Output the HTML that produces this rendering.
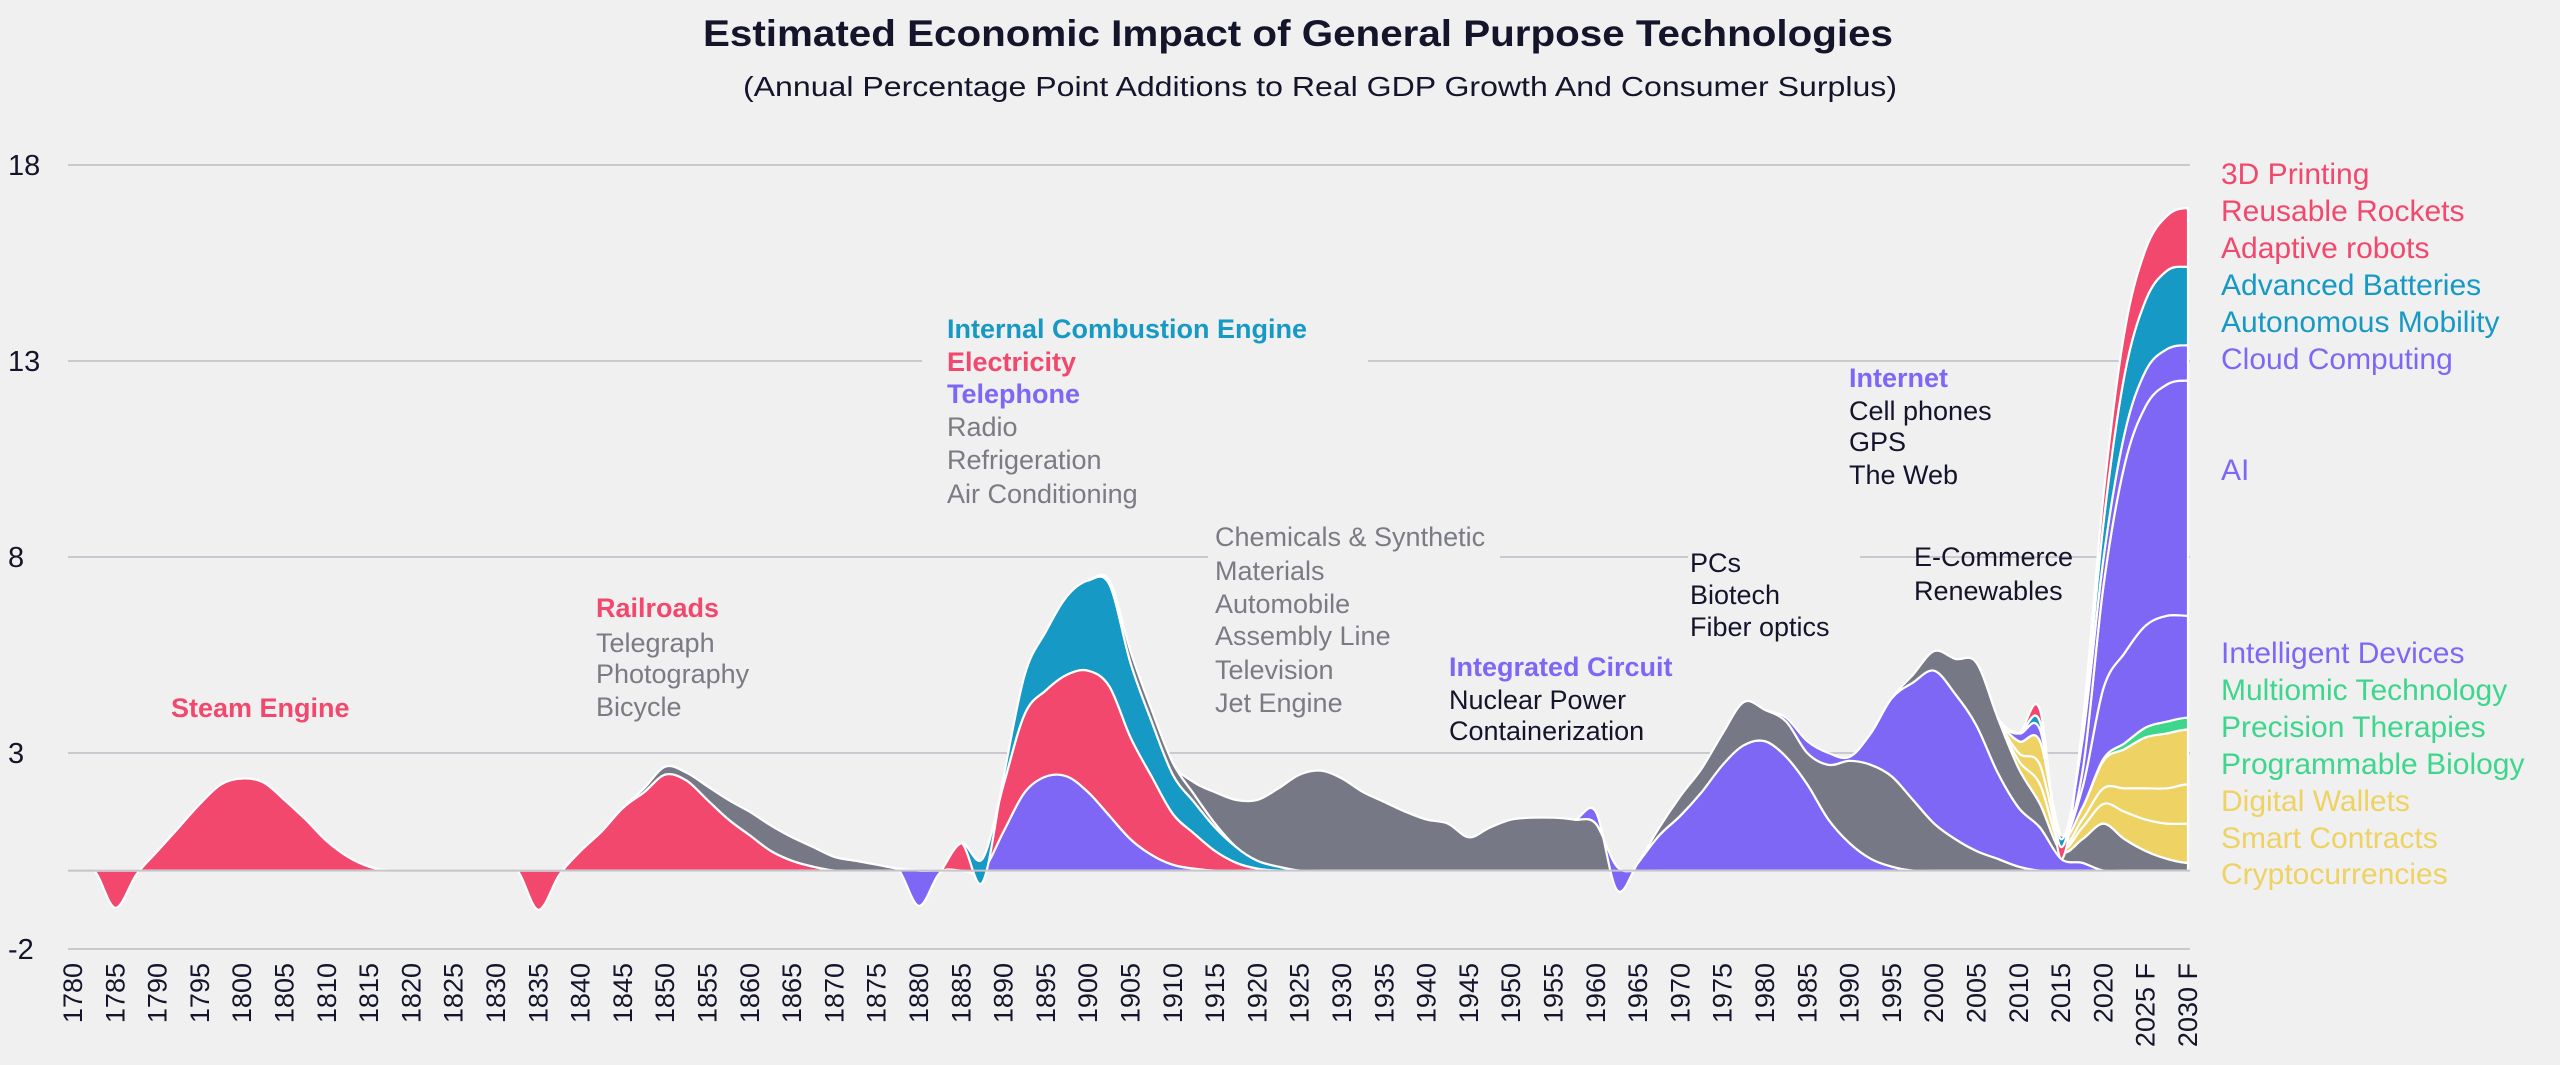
<!DOCTYPE html>
<html><head><meta charset="utf-8"><style>
html,body{margin:0;padding:0;background:#f0f0f0;}
svg{display:block;font-family:"Liberation Sans",sans-serif;}
</style></head><body>
<svg id="chart" width="2560" height="1065" viewBox="0 0 2560 1065" xmlns="http://www.w3.org/2000/svg">
<rect width="2560" height="1065" fill="#f0f0f0"/>
<text x="1298" y="46" text-anchor="middle" font-size="37" font-weight="bold" fill="#14142b" textLength="1190" lengthAdjust="spacingAndGlyphs">Estimated Economic Impact of General Purpose Technologies</text>
<text x="1320" y="96" text-anchor="middle" font-size="28" fill="#14142b" textLength="1154" lengthAdjust="spacingAndGlyphs">(Annual Percentage Point Additions to Real GDP Growth And Consumer Surplus)</text>
<g id="grid"></g>
<g id="yticks"></g>
<g id="xticks"></g>
<g id="areas"></g>
<g id="annot"></g>
<g id="legend"></g>
</svg>
<script>
// ---- data ----
const gridStart = 1780;
const gridStep = 2.5;
const gridCount = 101;
const yTicks = [18, 13, 8, 3, -2];
const xTickYears = [];
for (let y = 1780; y <= 2030; y += 5) xTickYears.push(y);
const xTickLabels = xTickYears.map(y => y >= 2025 ? y + " F" : String(y));

const steamStart = 1782.5;
const steamEngine = [0,-0.95,-0.1,0.5,1.1,1.7,2.2,2.35,2.25,1.8,1.3,0.75,0.35,0.1,0];
const railStart = 1832.5;
const railroads = [0,-1.0,-0.1,0.5,1.0,1.6,2.0,2.45,2.3,1.8,1.3,0.9,0.5,0.25,0.1,0];
const telegraphStart = 1845;
const telegraph = [0,0.1,0.2,0.2,0.35,0.5,0.6,0.65,0.6,0.5,0.35,0.25,0.15,0.05,0];
const telephoneStart = 1877.5;
const telephone = [0,-0.9,-0.05,0,0,1.0,2.0,2.4,2.4,2.0,1.4,0.8,0.4,0.15,0.05,0];
const electricityStart = 1882.5;
const electricity = [0,0.7,0.3,1.2,2.0,2.2,2.6,3.1,3.3,2.6,2.0,1.3,0.9,0.5,0.2,0.05,0];
const iceStart = 1885;
const ice = [0,-0.6,0.2,1.0,1.5,2.0,2.3,2.6,1.9,1.4,1.0,0.8,0.6,0.4,0.2,0.1,0];
const radioStart = 1900;
const radio = [0,0.1,0.3,0.3,0.3,0.2,0.1,0];
const chemStart = 1910;
const chemicals = [0,0.3,0.8,1.2,1.55,2.0,2.45,2.55,2.35,2.0,1.75,1.5,1.3,1.2,0.85,1.1,1.3,1.35,1.35,1.3,1.2,0.1,0];
const icStart = 1957.5;
const integratedCircuit = [0,0.3,-0.6,0.2,0.9,1.4,2.0,2.7,3.2,3.3,2.9,2.2,1.3,0.7,0.3,0.1,0];
const pcsStart = 1965;
const pcs = [0,0.2,0.5,0.6,0.8,1.1,0.8,0.9,0.8,1.4,2.1,2.4,2.3,1.8,1.2,0.8,0.5,0.3,0.1,0];
const internetStart = 1980;
const internet = [0,0.1,0.3,0.3,0.1,0.8,2.0,3.0,3.9,3.7,3.2,2.2,1.5,1.1,0.3,0.2,0];
const ecomStart = 1995;
const ecommerce = [0,0.2,0.5,0.9,1.6,1.4,1.0,0.6,0.2,0.6,1.2,0.8,0.5,0.3,0.2];
const modernStart = 2007.5;
const crypto = [0,0.2,0.5,0.1,0.3,0.5,0.7,0.8,0.9,1.0];
const smartContracts = [0,0.2,0.5,0.1,0.2,0.4,0.6,0.8,0.9,1.0];
const wallets = [0,0.3,0.6,0.2,0.3,0.7,1.0,1.3,1.4,1.4];
const biology = [0,0,0,0,0,0.05,0.15,0.25,0.3,0.3];
const devices = [0,0,0,0,0.5,1.8,2.3,2.6,2.7,2.6];
const ai = [0,0,0,0,0.4,2.6,4.8,5.6,5.9,6.0];
const cloud = [0,0.2,0.3,-0.1,0.8,0.7,0.8,0.9,0.9,0.9];
const mobility = [0,0,0.2,-0.2,0.2,0.9,1.5,1.8,2.0,2.0];
const robots = [0,0,0.3,-0.3,0.2,0.7,1.1,1.3,1.4,1.5];

const RED="#f2486d", TEAL="#1699c4", PURPLE="#7f67f6", GRAY="#767886", YEL="#eed264", GRN="#3dd68c";
const layers = [
 ["steam-engine", steamStart, steamEngine, RED],
 ["railroads", railStart, railroads, RED],
 ["telegraph-photography-bicycle", telegraphStart, telegraph, GRAY],
 ["telephone", telephoneStart, telephone, PURPLE],
 ["electricity", electricityStart, electricity, RED],
 ["internal-combustion-engine", iceStart, ice, TEAL],
 ["radio-refrigeration-ac", radioStart, radio, GRAY],
 ["chemicals-automobile-tv", chemStart, chemicals, GRAY],
 ["integrated-circuit", icStart, integratedCircuit, PURPLE],
 ["pcs-biotech-fiber", pcsStart, pcs, GRAY],
 ["internet", internetStart, internet, PURPLE],
 ["ecommerce-renewables", ecomStart, ecommerce, GRAY],
 ["cryptocurrencies", modernStart, crypto, YEL],
 ["smart-contracts", modernStart, smartContracts, YEL],
 ["digital-wallets", modernStart, wallets, YEL],
 ["programmable-biology", modernStart, biology, GRN],
 ["intelligent-devices", modernStart, devices, PURPLE],
 ["ai", modernStart, ai, PURPLE],
 ["cloud-computing", modernStart, cloud, PURPLE],
 ["autonomous-mobility", modernStart, mobility, TEAL],
 ["adaptive-robots", modernStart, robots, RED]
];

// ---- scales ----
const X0 = 73, XPX = 8.46;
function xs(year){ return X0 + (year - 1780) * XPX; }
function ys(v){ return 361 + (13 - v) * 39.2; }
const NS = "http://www.w3.org/2000/svg";
function mk(tag, attrs, parent){ const e=document.createElementNS(NS,tag); for(const k in attrs) e.setAttribute(k,attrs[k]); parent.appendChild(e); return e; }

// gridlines
const grid = document.getElementById('grid');
const gridSegs = {18:[[68,2190]],13:[[68,922],[1368,2190]],8:[[68,1208],[1500,1688],[1860,2190]],3:[[68,2190]],"-2":[[68,2190]]};
yTicks.forEach(t => {
  gridSegs[t].forEach(s => {
    const l = mk('line',{x1:s[0],x2:s[1],y1:ys(t),y2:ys(t),stroke:"#c9c9cf","stroke-width":2},grid);
    
    
  });
});

const yt = document.getElementById('yticks');
yTicks.forEach(t => {
  const e = mk('text',{x:8,y:ys(t)+10,"font-size":29,fill:"#14142b"},yt);
  e.textContent = t;
  
  
});
const xt = document.getElementById('xticks');
xTickYears.forEach((yr,i) => {
  const x = xs(yr), y = 963;
  const e = mk('text',{x:x,y:y,"font-size":27,fill:"#14142b","text-anchor":"end",transform:`rotate(-90 ${x} ${y})`,dy:"9"},xt);
  e.textContent = xTickLabels[i];
  
  
});

// ---- stacking ----
function fullSeries(start, vals){
  const arr = new Array(gridCount).fill(0);
  const s = Math.round((start - gridStart)/gridStep);
  vals.forEach((v,k)=>{ if(s+k>=0 && s+k<gridCount) arr[s+k]=v; });
  return {arr, s, e: s + vals.length - 1};
}
function tangents(ysArr){
  const n = ysArr.length, h = gridStep, m=new Array(n).fill(0);
  for(let i=1;i<n-1;i++) m[i]=(ysArr[i+1]-ysArr[i-1])/(2*h);
  return m;
}
function segPath(cum, tan, i0, i1, forward){
  let p="";
  const idx = forward ? [...Array(i1-i0+1).keys()].map(k=>i0+k) : [...Array(i1-i0+1).keys()].map(k=>i1-k);
  for(let k=1;k<idx.length;k++){
    const a=idx[k-1], b=idx[k];
    const ya=gridStart+a*gridStep, yb=gridStart+b*gridStep;
    const dx=(yb-ya)/3;
    const c1v=cum[a]+tan[a]*dx, c2v=cum[b]-tan[b]*dx;
    p+=` C${xs(ya+dx).toFixed(1)},${ys(c1v).toFixed(1)} ${xs(yb-dx).toFixed(1)},${ys(c2v).toFixed(1)} ${xs(yb).toFixed(1)},${ys(cum[b]).toFixed(1)}`;
  }
  return p;
}
const areas = document.getElementById('areas');
let cum = new Array(gridCount).fill(0);
let cumTan = new Array(gridCount).fill(0);
layers.forEach(L => {
  const f = fullSeries(L[1], L[2]);
  const upper = cum.map((c,i)=>c+f.arr[i]);
  const upTan = tangents(upper);
  const i0=f.s, i1=Math.min(f.e,gridCount-1);
  const startY = gridStart+i0*gridStep, endY = gridStart+i1*gridStep;
  let d = `M${xs(startY).toFixed(1)},${ys(cum[i0]).toFixed(1)}`;
  d += ` L${xs(startY).toFixed(1)},${ys(upper[i0]).toFixed(1)}`;
  d += segPath(upper, upTan, i0, i1, true);
  d += ` L${xs(endY).toFixed(1)},${ys(cum[i1]).toFixed(1)}`;
  d += segPath(cum, cumTan, i0, i1, false) + " Z";
  const p = mk('path',{d:d,fill:L[3],stroke:"#ffffff","stroke-width":2.2,"stroke-linejoin":"round"},areas);
  
  
  cum = upper; cumTan = upTan;
});
const zl = mk('line',{x1:68,x2:2190,y1:ys(0),y2:ys(0),stroke:"#c4c4ca","stroke-width":2},areas);



// ---- annotations ----
const annot = document.getElementById('annot');
const DG="#7a7b84", BK="#14142b";
const notes = [
 ["Steam Engine",171,707,RED,true,"steam-engine"],
 ["Railroads",596,607,RED,true,"railroads"],
 ["Telegraph",596,642,DG,false,"telegraph"],
 ["Photography",596,673,DG,false,"photography"],
 ["Bicycle",596,706,DG,false,"bicycle"],
 ["Internal Combustion Engine",947,328,TEAL,true,"ice"],
 ["Electricity",947,361,RED,true,"electricity"],
 ["Telephone",947,393,PURPLE,true,"telephone"],
 ["Radio",947,426,DG,false,"radio"],
 ["Refrigeration",947,459,DG,false,"refrigeration"],
 ["Air Conditioning",947,493,DG,false,"air-conditioning"],
 ["Chemicals & Synthetic",1215,536,DG,false,"chemicals"],
 ["Materials",1215,570,DG,false,"materials"],
 ["Automobile",1215,603,DG,false,"automobile"],
 ["Assembly Line",1215,635,DG,false,"assembly-line"],
 ["Television",1215,669,DG,false,"television"],
 ["Jet Engine",1215,702,DG,false,"jet-engine"],
 ["Integrated Circuit",1449,666,PURPLE,true,"integrated-circuit"],
 ["Nuclear Power",1449,699,BK,false,"nuclear-power"],
 ["Containerization",1449,730,BK,false,"containerization"],
 ["PCs",1690,562,BK,false,"pcs"],
 ["Biotech",1690,594,BK,false,"biotech"],
 ["Fiber optics",1690,626,BK,false,"fiber-optics"],
 ["Internet",1849,377,PURPLE,true,"internet"],
 ["Cell phones",1849,410,BK,false,"cell-phones"],
 ["GPS",1849,441,BK,false,"gps"],
 ["The Web",1849,474,BK,false,"the-web"],
 ["E-Commerce",1914,556,BK,false,"e-commerce"],
 ["Renewables",1914,590,BK,false,"renewables"]
];
notes.forEach(n => {
  const e = mk('text',{x:n[1],y:n[2]+10,"font-size":27,fill:n[3],"font-weight":n[4]?"bold":"normal"},annot);
  e.textContent = n[0];
  
  
});

// ---- legend ----
const legend = document.getElementById('legend');
const legendItems = [
 ["3D Printing",174,RED],["Reusable Rockets",211,RED],["Adaptive robots",248,RED],
 ["Advanced Batteries",285,TEAL],["Autonomous Mobility",322,TEAL],["Cloud Computing",359,PURPLE],
 ["AI",470,PURPLE],["Intelligent Devices",653,PURPLE],["Multiomic Technology",690,GRN],
 ["Precision Therapies",727,GRN],["Programmable Biology",764,GRN],["Digital Wallets",801,YEL],
 ["Smart Contracts",838,YEL],["Cryptocurrencies",874,YEL]
];
legendItems.forEach(it => {
  const e = mk('text',{x:2221,y:it[1]+10,"font-size":30,fill:it[2]},legend);
  e.textContent = it[0];
  
  
});
</script>
</body></html>
